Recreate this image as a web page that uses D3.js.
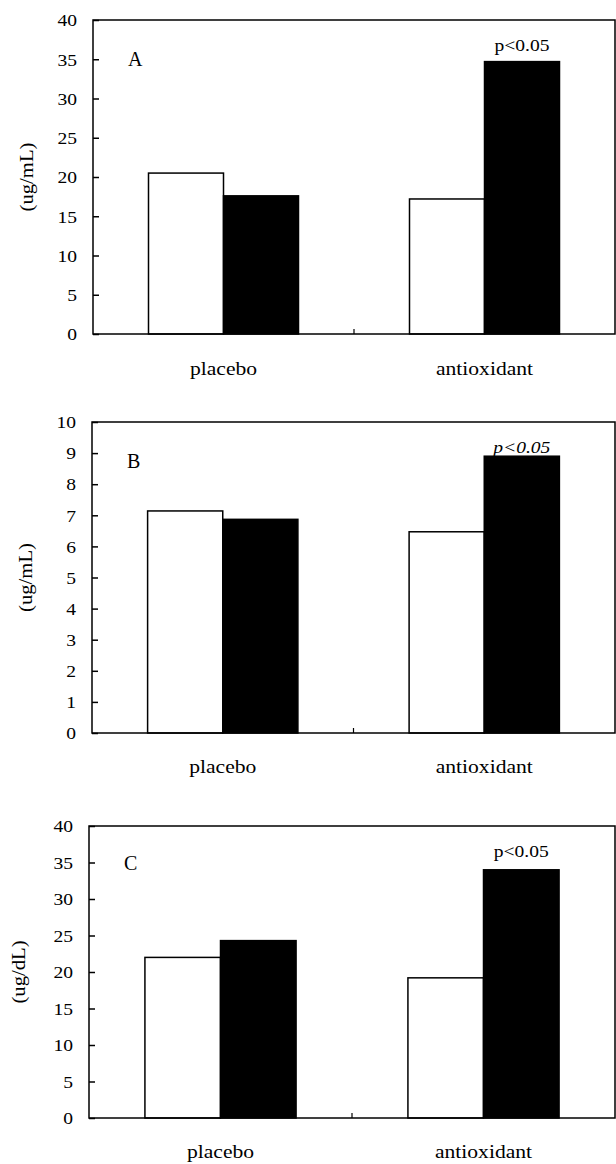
<!DOCTYPE html>
<html>
<head>
<meta charset="utf-8">
<script src="https://cdn.jsdelivr.net/npm/d3@7"></script>
<style>
  body { margin: 0; background: #fff; }
  svg text { font-family: 'Liberation Serif', 'Times New Roman', serif !important; fill: #000; }
</style>
</head>
<body>
<svg width="616" height="1164"></svg>
<script>
const categories = ['placebo', 'antioxidant'];
const series = ['before', 'after'];

// panel A (ug/mL)
const valuesA_before = [20.5, 17.2];
const valuesA_after = [17.6, 34.7];
const ticksA = [0, 5, 10, 15, 20, 25, 30, 35, 40];

// panel B (ug/mL)
const valuesB_before = [7.14, 6.47];
const valuesB_after = [6.87, 8.9];
const ticksB = [0, 1, 2, 3, 4, 5, 6, 7, 8, 9, 10];

// panel C (ug/dL)
const valuesC_before = [22.0, 19.2];
const valuesC_after = [24.3, 34.0];
const ticksC = [0, 5, 10, 15, 20, 25, 30, 35, 40];

const panels = [
  { letter: 'A', unit: '(ug/mL)', before: valuesA_before, after: valuesA_after, ticks: ticksA,
    left: 93, right: 615, top: 20, bottom: 334, labelY: 375, unitX: 27, italic: false },
  { letter: 'B', unit: '(ug/mL)', before: valuesB_before, after: valuesB_after, ticks: ticksB,
    left: 92, right: 615, top: 422, bottom: 733, labelY: 773, unitX: 26, italic: true },
  { letter: 'C', unit: '(ug/dL)', before: valuesC_before, after: valuesC_after, ticks: ticksC,
    left: 89, right: 615, top: 826, bottom: 1118, labelY: 1158, unitX: 19, italic: false }
];

const svg = d3.select('svg');

// the scan is a bit wider than plain Times, so stretch text horizontally
const stretch = (sel, k) => sel.attr('transform', function () {
  const x = +this.getAttribute('x') || 0;
  const prev = this.getAttribute('transform') || '';
  return `${prev} translate(${x},0) scale(${k},1) translate(${-x},0)`;
});

const drawPanel = p => {
  const g = svg.append('g').attr('class', 'panel');
  const yMax = d3.max(p.ticks);

  const y = d3.scaleLinear().domain([0, yMax]).range([p.bottom, p.top]);
  const x = d3.scaleBand().domain(categories).range([p.left, p.right]).padding(0);
  const xs = d3.scaleBand().domain(series).range([0, x.bandwidth()]).paddingInner(0).paddingOuter(0.74);

  // bars
  const rows = categories.map((c, i) => ({ cat: c, before: p.before[i], after: p.after[i] }));
  const grp = g.selectAll('g.grp').data(rows).enter().append('g')
    .attr('class', 'grp')
    .attr('transform', d => `translate(${x(d.cat)},0)`);

  grp.selectAll('rect')
    .data(d => series.map(s => ({ s, v: d[s] })))
    .enter()
    .append('rect')
    .attr('x', d => xs(d.s))
    .attr('y', d => y(d.v))
    .attr('width', xs.bandwidth())
    .attr('height', d => y(0) - y(d.v))
    .attr('fill', d => (d.s === 'after' ? '#000' : '#fff'))
    .attr('stroke', '#000')
    .attr('stroke-width', 1.5);

  // frame
  g.append('rect')
    .attr('x', p.left)
    .attr('y', p.top)
    .attr('width', p.right - p.left)
    .attr('height', p.bottom - p.top)
    .attr('fill', 'none')
    .attr('stroke', '#000')
    .attr('stroke-width', 1.5);

  // y axis with inward ticks
  const yAxis = d3.axisLeft(y).tickValues(p.ticks).tickSizeInner(-6).tickSizeOuter(0).tickPadding(16)
    .tickFormat(d3.format('d'));
  const ya = g.append('g').attr('transform', `translate(${p.left},0)`).call(yAxis);
  ya.select('.domain').remove();
  ya.selectAll('line').attr('stroke', '#000').attr('stroke-width', 1.5);
  ya.selectAll('text')
    .attr('font-size', 17)
    .attr('dy', '0.34em')
    .call(sel => stretch(sel, 1.15));

  // small separator tick on the bottom axis
  g.append('line')
    .attr('x1', x('antioxidant'))
    .attr('x2', x('antioxidant'))
    .attr('y1', p.bottom)
    .attr('y2', p.bottom - 5)
    .attr('stroke', '#000')
    .attr('stroke-width', 1.2);

  // category labels
  g.selectAll('text.cat').data(categories).enter().append('text')
    .attr('class', 'cat')
    .attr('x', d => x(d) + x.bandwidth() / 2)
    .attr('y', p.labelY)
    .attr('text-anchor', 'middle')
    .attr('font-size', 18)
    .call(sel => stretch(sel, 1.2));

  g.selectAll('text.cat').text(d => d);

  // panel letter
  g.append('text')
    .attr('x', p.left + 35)
    .attr('y', y(yMax * 0.875) + 7)
    .attr('font-size', 20)
    .text(p.letter);

  // significance mark above the antioxidant black bar
  g.append('text')
    .attr('x', x('antioxidant') + xs('after') + xs.bandwidth() / 2)
    .attr('y', p.top + 31)
    .attr('text-anchor', 'middle')
    .attr('font-size', 17)
    .attr('font-style', p.italic ? 'italic' : 'normal')
    .text('p<0.05')
    .call(sel => stretch(sel, 1.15));

  // y axis title
  g.append('text')
    .attr('transform', `translate(${p.unitX},${(p.top + p.bottom) / 2}) rotate(-90) scale(1.15,1)`)
    .attr('text-anchor', 'middle')
    .attr('dy', '0.35em')
    .attr('font-size', 18)
    .text(p.unit);
};

panels.forEach(drawPanel);
</script>
</body>
</html>
